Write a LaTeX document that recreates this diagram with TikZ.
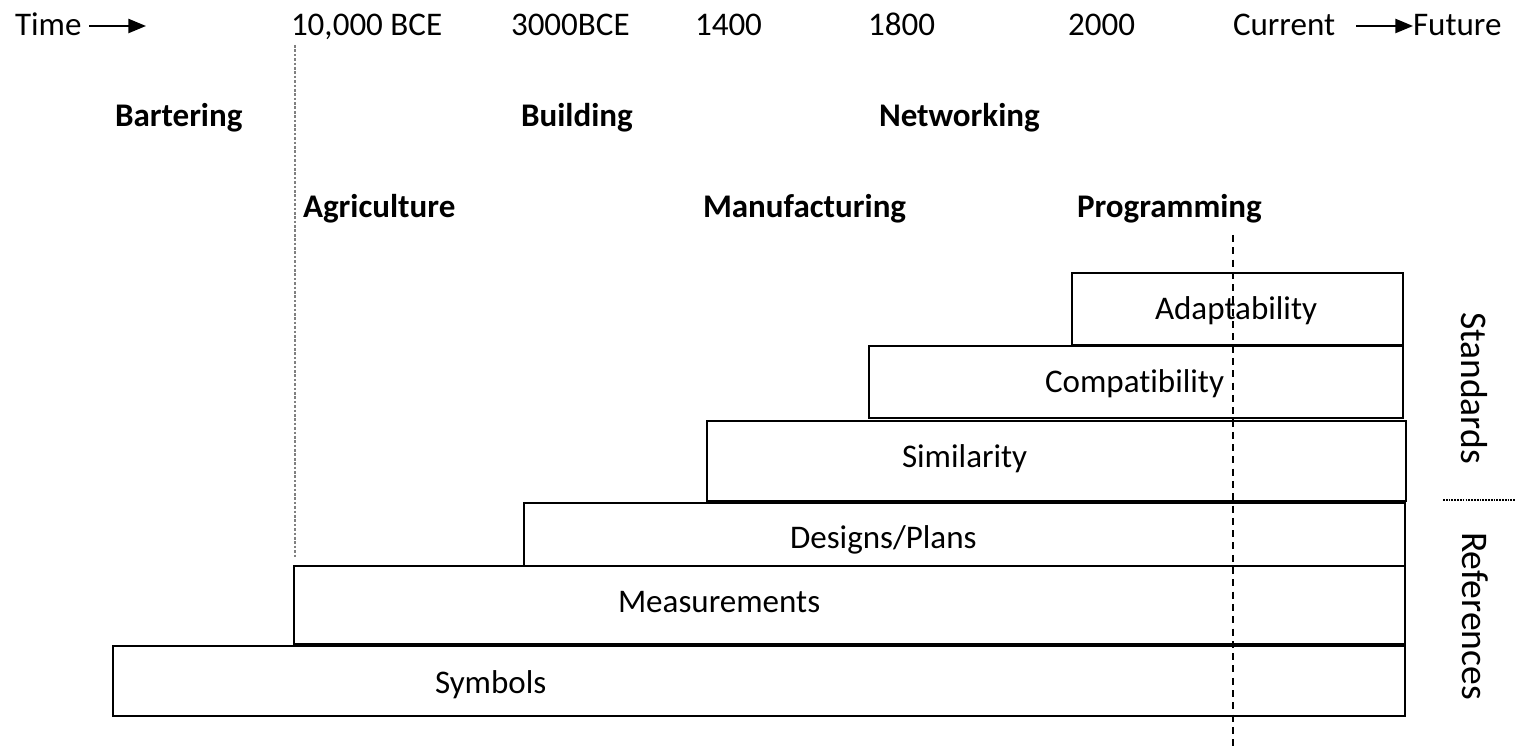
\documentclass[tikz,border=0pt]{standalone}
\usepackage{fontspec}
\setmainfont{Carlito}[RawFeature={-liga;-clig;-calt;-dlig}]
\usetikzlibrary{arrows.meta,fit}
\begin{document}
\begin{tikzpicture}[x=0.02cm,y=-0.02cm,
  every node/.style={font=\fontsize{18.8}{22}\selectfont, inner sep=0pt, outer sep=0pt},
  lbl/.style={anchor=base west},
  era/.style={anchor=base west, font=\fontsize{18.8}{22}\selectfont\bfseries},
  side/.style={rotate=-90, font=\fontsize{21.4}{25}\selectfont},
  box/.style={draw=black, line width=1.1pt, inner sep=0pt, fill=white},
  tarrow/.style={line width=1.1pt, -{Triangle[length=10pt,width=8pt]}},
  nowline/.style={draw=black, line width=0.9pt, dash pattern=on 4pt off 3pt},
  startline/.style={draw=black!50, line width=0.8pt, dash pattern=on 1.5pt off 1pt},
  sepline/.style={draw=black, line width=0.6pt, dash pattern=on 1pt off 0.6pt}]
\useasboundingbox (0,0) rectangle (1525,749);
\fill[white] (0,0) rectangle (1525,749);

% time axis labels
\node[lbl] (time) at (15,36) {Time};
\coordinate (tA) at (89,26);
\coordinate (tB) at (146,26);
\draw[tarrow] (tA) -- (tB);
\node[lbl] (t1) at (291,36) {10,000 BCE};
\node[lbl] (t2) at (511,36) {3000BCE};
\node[lbl] (t3) at (695,36) {1400};
\node[lbl] (t4) at (868,36) {1800};
\node[lbl] (t5) at (1068,36) {2000};
\node[lbl] (cur) at (1233,36) {Current};
\node[lbl] (fut) at (1413,36) {Future};
\coordinate (fA) at (1356,26);
\draw[tarrow] (fA) -- (fut.west |- fA);

% eras
\node[era] (barter) at (115,127) {Bartering};
\node[era] (build) at (521,127) {Building};
\node[era] (net) at (879,127) {Networking};
\node[era] (agri) at (303,218) {Agriculture};
\node[era] (manu) at (703,218) {Manufacturing};
\node[era] (prog) at (1077,218) {Programming};

% vertical guide at 10,000 BCE
\coordinate (gA) at (295,45);
\coordinate (gB) at (295,557);
\draw[startline] (gA) -- (gB);

% boxes
\coordinate (s1) at (113,646); \coordinate (s2) at (1405,716);
\coordinate (m1) at (294,566); \coordinate (m2) at (1405,644);
\coordinate (d1) at (524,503); \coordinate (d2) at (1405,567);
\coordinate (i1) at (707,421); \coordinate (i2) at (1406,501);
\coordinate (c1) at (869,346); \coordinate (c2) at (1403,418);
\coordinate (a1) at (1072,273); \coordinate (a2) at (1403,345);
\node[box, fit=(a1)(a2)] (adapt) {};
\node[box, fit=(c1)(c2)] (compat) {};
\node[box, fit=(i1)(i2)] (simil) {};
\node[box, fit=(d1)(d2)] (design) {};
\node[box, fit=(m1)(m2)] (meas) {};
\node[box, fit=(s1)(s2)] (symb) {};

\node[lbl] (adaptL) at (1155,320) {Adaptability};
\node[lbl] (compatL) at (1045,393) {Compat\kern0pt ibility};
\node[lbl] (similL) at (902,468) {Similarity};
\node[lbl] (designL) at (790,549) {Designs/Plans};
\node[lbl] (measL) at (618,613) {Measurements};
\node[lbl] (symbL) at (435,693) {Symbols};

% current line
\coordinate (nA) at (1233,235);
\coordinate (nB) at (1233,749);
\draw[nowline] (nA) -- (nB);

% side labels
\node[side] (std) at (1474,388) {Standards};
\node[side] (ref) at (1475,616) {References};
\coordinate (sA) at (1443,500);
\coordinate (sB) at (1515,500);
\draw[sepline] (sA) -- (sB);
\end{tikzpicture}
\end{document}
